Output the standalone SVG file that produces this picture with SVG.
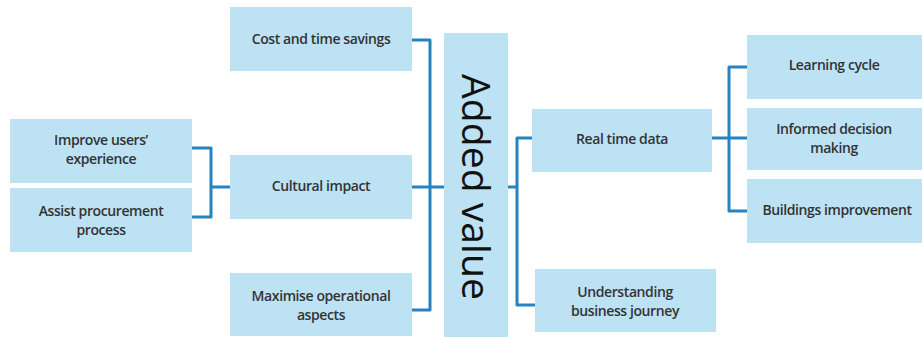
<svg xmlns="http://www.w3.org/2000/svg" width="922" height="337" viewBox="0 0 922 337">
<style>
.box{fill:#bce2f4;}
.lbl{font-family:"Open Sans","Liberation Sans",sans-serif;font-size:14px;font-weight:600;fill:#333333;text-anchor:middle;letter-spacing:-0.4px;}
.con{fill:none;stroke:#2583c0;stroke-width:3;stroke-linejoin:round;}
.big{font-family:"Open Sans","Liberation Sans",sans-serif;font-size:38px;fill:#111;text-anchor:middle;}
</style>
<rect width="922" height="337" fill="#ffffff"/>
<g id="connectors">
<path class="con" d="M192,148 H211 V217 H192 M211,187 H230"/>
<path class="con" d="M412,40 H430 V310 H412 M412,187 H444"/>
<path class="con" d="M508,187 H517 M532,138 H517 V305 H535"/>
<path class="con" d="M712,138 H747 M747,67 H729 V211 H747"/>
</g>
<g id="n-cost"><rect class="box" x="230" y="7" width="182" height="64"/><text class="lbl" x="321" y="44">Cost and time savings</text></g>
<g id="n-improve"><rect class="box" x="10" y="119" width="182" height="64"/><text class="lbl" x="101" y="145">Improve users’</text><text class="lbl" x="101" y="164">experience</text></g>
<g id="n-assist"><rect class="box" x="10" y="188" width="182" height="64"/><text class="lbl" x="101" y="216">Assist procurement</text><text class="lbl" x="101" y="235">process</text></g>
<g id="n-cultural"><rect class="box" x="230" y="155" width="182" height="64"/><text class="lbl" x="321" y="191">Cultural impact</text></g>
<g id="n-maximise"><rect class="box" x="230" y="273" width="182" height="63"/><text class="lbl" x="321" y="301">Maximise operational</text><text class="lbl" x="321" y="320">aspects</text></g>
<g id="n-added"><rect class="box" x="444" y="33" width="64" height="304"/><text class="big" transform="translate(462,187) rotate(90)" x="0" y="0" textLength="226" lengthAdjust="spacingAndGlyphs">Added value</text></g>
<g id="n-realtime"><rect class="box" x="532" y="109" width="180" height="63"/><text class="lbl" x="622" y="144">Real time data</text></g>
<g id="n-understanding"><rect class="box" x="535" y="269" width="181" height="63"/><text class="lbl" x="625" y="297">Understanding</text><text class="lbl" x="625" y="316">business journey</text></g>
<g id="n-learning"><rect class="box" x="747" y="35" width="175" height="64"/><text class="lbl" x="834" y="70">Learning cycle</text></g>
<g id="n-informed"><rect class="box" x="747" y="108" width="175" height="62"/><text class="lbl" x="834" y="134">Informed decision</text><text class="lbl" x="834" y="153">making</text></g>
<g id="n-buildings"><rect class="box" x="747" y="179" width="175" height="64"/><text class="lbl" x="837" y="215">Buildings improvement</text></g>
</svg>
